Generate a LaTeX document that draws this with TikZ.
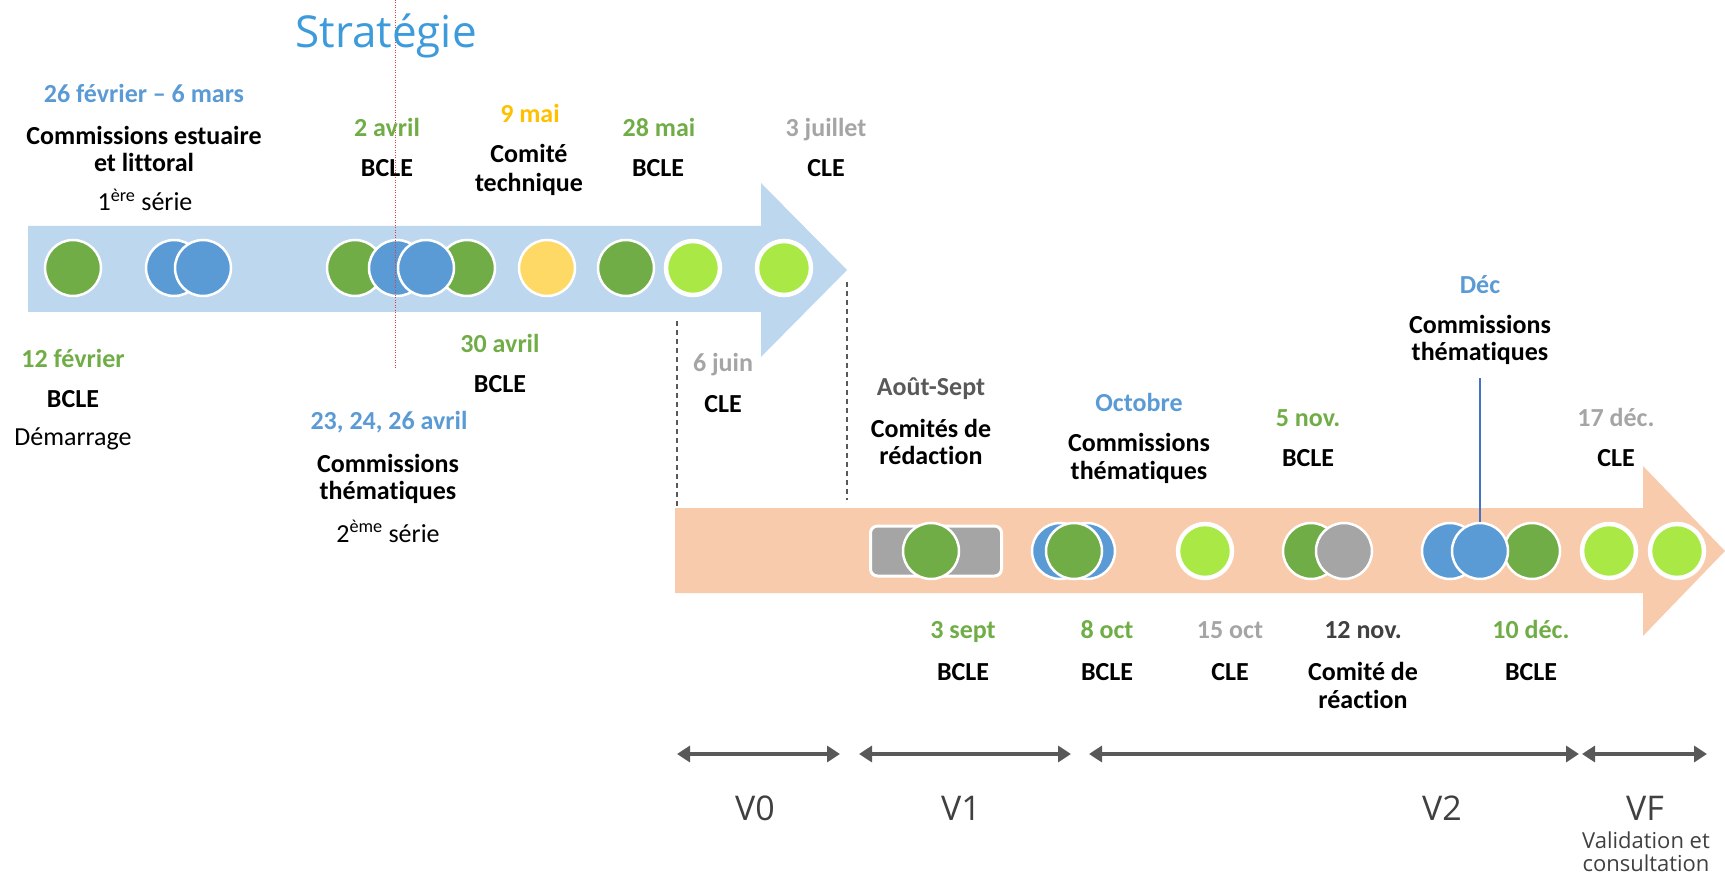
\documentclass[tikz,border=0pt]{standalone}
\usepackage{fontspec}
\setmainfont{Carlito}[Ligatures=NoCommon]
\newfontfamily\vfont{Open Sans}
\usetikzlibrary{arrows.meta}

\definecolor{lblue}{HTML}{BDD7EE}
\definecolor{peach}{HTML}{F8CBAD}
\definecolor{mgreen}{HTML}{70AD47}
\definecolor{mblue}{HTML}{5B9BD5}
\definecolor{myellow}{HTML}{FFD966}
\definecolor{dyellow}{HTML}{FFC000}
\definecolor{lgreen}{HTML}{A9E845}
\definecolor{mgray}{HTML}{A5A5A5}
\definecolor{dgray}{HTML}{595959}
\definecolor{ddgray}{HTML}{404040}
\definecolor{tblue}{HTML}{3D9BDB}
\definecolor{lineblue}{HTML}{4472C4}
\definecolor{cutred}{HTML}{E0393E}

\begin{document}
\begin{tikzpicture}[x=1pt, y=-1pt,
    dot node/.style={circle, draw=white, line width=2.5pt, minimum size=56pt, inner sep=0pt},
    soft node/.style={dot node, line width=4.5pt, minimum size=54pt, fill=lgreen},
    lab/.style={font=\bfseries\fontsize{26}{28}\selectfont, inner sep=0pt, anchor=base},
    plain/.style={font=\fontsize{26}{28}\selectfont, inner sep=0pt, anchor=base},
    vlab/.style={font=\vfont\fontsize{34}{36}\selectfont, text=ddgray, inner sep=0pt, anchor=base},
    small vlab/.style={font=\vfont\fontsize{22}{22}\selectfont, text=ddgray, inner sep=0pt, anchor=base},
    guide/.style={draw=dgray, line width=1.2pt, dash pattern=on 5pt off 4pt},
    span/.style={draw=dgray, line width=4.5pt, {Triangle[length=13pt,width=16pt]}-{Triangle[length=13pt,width=16pt]}},
    dec line/.style={draw=lineblue, line width=1.2pt, shorten <=13pt}]
\useasboundingbox (0,0) rectangle (1725,874);

% the two time arrows
\fill[lblue] (28,226) -- (761,226) -- (761,183) -- (847,270) -- (761,357) -- (761,312) -- (28,312) -- cycle;
\fill[peach] (675,508) -- (1643,508) -- (1643,466) -- (1725,551) -- (1643,636) -- (1643,593) -- (675,593) -- cycle;

\draw[guide] (677,321) -- (677,506);
\draw[guide] (847,282) -- (847,500);

% meetings, first half
\node[dot node, fill=mgreen] (a1) at (73,268) {};
\node[dot node, fill=mblue] (a2) at (174,268) {};
\node[dot node, fill=mblue] (a3) at (203,268) {};
\node[dot node, fill=mgreen] (a5) at (467,268) {};
\node[dot node, fill=mgreen] (a4) at (355,268) {};
\node[dot node, fill=mblue] (a6) at (397,268) {};
\node[dot node, fill=mblue] (a7) at (426,268) {};
\node[dot node, fill=myellow] (a8) at (547,268) {};
\node[dot node, fill=mgreen] (a9) at (626,268) {};
\node[soft node] (a10) at (693,268) {};
\node[soft node] (a11) at (784,268) {};

% meetings, second half
\node[draw=white, line width=3pt, fill=mgray, rounded corners=7pt, minimum width=131pt, minimum height=50pt, inner sep=0pt] (r1) at (936,551) {};
\node[dot node, fill=mgreen] (b1) at (931,551) {};
\node[dot node, fill=mblue] (b2) at (1060,551) {};
\node[dot node, fill=mblue] (b3) at (1087,551) {};
\node[dot node, fill=mgreen] (b4) at (1074,551) {};
\node[soft node] (b5) at (1205,551) {};
\node[dot node, fill=mgreen] (b6) at (1311,551) {};
\node[dot node, fill=mgray] (b7) at (1344,551) {};
\node[dot node, fill=mblue] (b8) at (1450,551) {};
\node[dot node, fill=mgreen] (b10) at (1532,551) {};
\node[dot node, fill=mblue] (b9) at (1480,551) {};
\node[soft node] (b11) at (1609,551) {};
\node[soft node] (b12) at (1677,551) {};

\coordinate (cut top) at (395,0);
\coordinate (cut bot) at (395,369);
\draw[cutred, line width=1pt, dash pattern=on 1pt off 1.5pt] (cut top) -- (cut bot);

\node[font=\vfont\fontsize{44}{46}\selectfont, text=tblue, inner sep=0pt, anchor=base] (title) at (386,48) {Stratégie};

% labels above the first arrow
\node[lab, mblue] (d1) at (144,103) {26 février – 6 mars};
\node[lab] (t1a) at (144,145) {Commissions estuaire};
\node[lab] (t1b) at (144,172) {et littoral};
\node[plain] (t1c) at (145,211) {1\textsuperscript{ère} série};
\node[lab, mgreen] (d2) at (387,137) {2 avril};
\node[lab] (t2) at (387,177) {BCLE};
\node[lab, dyellow] (d3) at (530,123) {9 mai};
\node[lab] (t3a) at (529,163) {Comité};
\node[lab] (t3b) at (529,192) {technique};
\node[lab, mgreen] (d4) at (659,137) {28 mai};
\node[lab] (t4) at (658,177) {BCLE};
\node[lab, mgray] (d5) at (826,137) {3 juillet};
\node[lab] (t5) at (826,177) {CLE};

% labels below the first arrow
\node[lab, mgreen] (d6) at (73,368) {12 février};
\node[lab] (t6a) at (73,408) {BCLE};
\node[plain] (t6b) at (73,446) {Démarrage};
\node[lab, mgreen] (d7) at (500,353) {30 avril};
\node[lab] (t7) at (500,393) {BCLE};
\node[lab, mblue] (d8) at (389,430) {23, 24, 26 avril};
\node[lab] (t8a) at (388,473) {Commissions};
\node[lab] (t8b) at (388,500) {thématiques};
\node[plain] (t8c) at (388,542) {2\textsuperscript{ème} série};
\node[lab, mgray] (d9) at (723,372) {6 juin};
\node[lab] (t9) at (723,413) {CLE};

% labels above the second arrow
\node[lab, dgray] (d10) at (931,396) {Août-Sept};
\node[lab] (t10a) at (931,438) {Comités de};
\node[lab] (t10b) at (931,465) {rédaction};
\node[lab, mblue] (d11) at (1139,412) {Octobre};
\node[lab] (t11a) at (1139,452) {Commissions};
\node[lab] (t11b) at (1139,479) {thématiques};
\node[lab, mgreen] (d12) at (1308,427) {5 nov.};
\node[lab] (t12) at (1308,467) {BCLE};
\node[lab, mblue] (d13) at (1480,294) {Déc};
\node[lab] (t13a) at (1480,334) {Commissions};
\node[lab] (t13b) at (1480,361) {thématiques};
\node[lab, mgray] (d14) at (1616,427) {17 déc.};
\node[lab] (t14) at (1616,467) {CLE};
\draw[dec line] (t13b.south) -- (b9.north);

% labels below the second arrow
\node[lab, mgreen] (d15) at (963,638) {3 sept};
\node[lab] (t15) at (963,680) {BCLE};
\node[lab, mgreen] (d16) at (1107,638) {8 oct};
\node[lab] (t16) at (1107,680) {BCLE};
\node[lab, mgray] (d17) at (1230,638) {15 oct};
\node[lab] (t17) at (1230,680) {CLE};
\node[lab, ddgray] (d18) at (1363,638) {12 nov.};
\node[lab] (t18a) at (1363,680) {Comité de};
\node[lab] (t18b) at (1363,708) {réaction};
\node[lab, mgreen] (d19) at (1531,638) {10 déc.};
\node[lab] (t19) at (1531,680) {BCLE};

% versions
\coordinate (v0a) at (677,754);
\coordinate (v0b) at (840,754);
\coordinate (v1a) at (859,754);
\coordinate (v1b) at (1071,754);
\coordinate (v2a) at (1089,754);
\coordinate (v2b) at (1579,754);
\coordinate (vfa) at (1582,754);
\coordinate (vfb) at (1707,754);
\draw[span] (v0a) -- (v0b);
\draw[span] (v1a) -- (v1b);
\draw[span] (v2a) -- (v2b);
\draw[span] (vfa) -- (vfb);
\node[vlab] (v0) at (755,820) {V0};
\node[vlab] (v1) at (961,820) {V1};
\node[vlab] (v2) at (1442,820) {V2};
\node[vlab] (vf) at (1645,820) {VF};
\node[small vlab] (vfa1) at (1646,848) {Validation et};
\node[small vlab] (vfa2) at (1646,871) {consultation};
\end{tikzpicture}
\end{document}
